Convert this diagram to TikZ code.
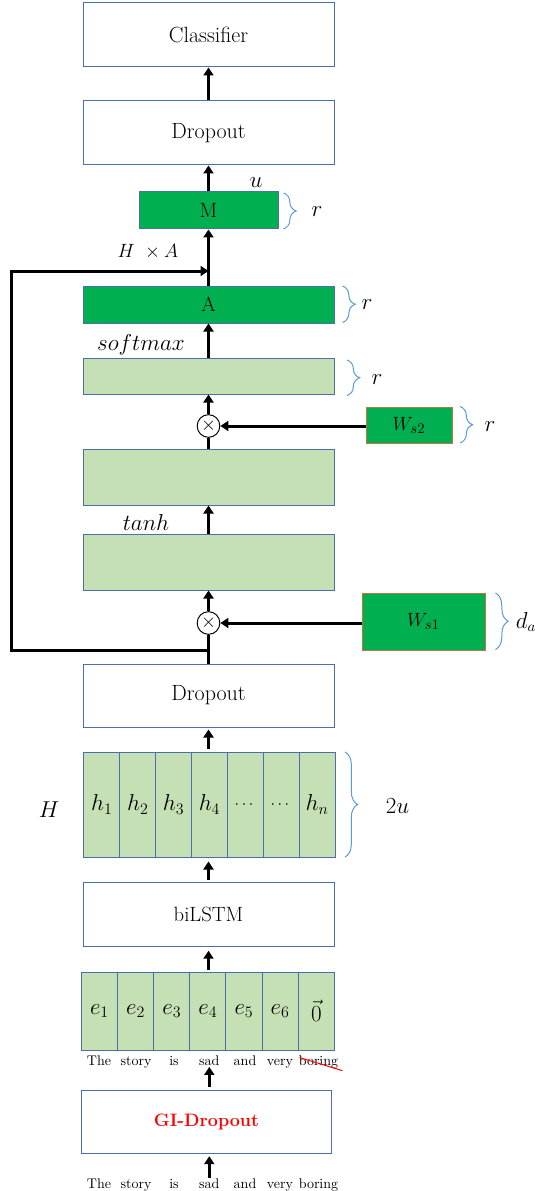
\documentclass[tikz,border=0pt]{standalone}
\usepackage{amsmath,amssymb}
\usepackage{xcolor}
\usetikzlibrary{arrows.meta}
\usetikzlibrary{decorations.pathreplacing}
\usetikzlibrary{calc}
\definecolor{boxblue}{HTML}{4A6EAE}
\definecolor{darkgrn}{HTML}{00B050}
\definecolor{lightgrn}{HTML}{C5E0B4}
\definecolor{wborder}{HTML}{C0743E}
\definecolor{braceblue}{HTML}{5B9BD5}

\begin{document}
\begin{tikzpicture}[x=0.75pt,y=0.75pt,yscale=-1,xscale=1,
  layer/.style={draw=boxblue, line width=0.75pt, fill=white, minimum width=188.25pt, minimum height=48pt, inner sep=0pt, font=\fontsize{16.5}{19}\selectfont},
  pale/.style={layer, fill=lightgrn},
  deep/.style={layer, fill=darkgrn, font=\fontsize{15.5}{18}\selectfont},
  weight/.style={draw=wborder, line width=0.75pt, fill=darkgrn, inner sep=0pt, font=\fontsize{15}{18}\selectfont},
  cell/.style={draw=boxblue, line width=0.75pt, fill=lightgrn, inner sep=0pt, font=\fontsize{16.5}{19}\selectfont},
  mult/.style={circle, draw, line width=0.75pt, fill=white, minimum size=17pt, inner sep=0pt, font=\fontsize{15}{18}\selectfont},
  arr/.style={line width=2.25pt, -{Triangle[length=6pt,width=7.5pt]}},
  flow/.style={line width=2.25pt},
  dim/.style={draw=braceblue, line width=0.75pt, decorate, decoration={brace, amplitude=9.5pt}},
  mathlab/.style={inner sep=0.75pt, font=\fontsize{16}{19}\selectfont},
  word/.style={inner sep=0.75pt, anchor=base, font=\fontsize{10.5}{12}\selectfont}]
%set diagram left start at 0, and has height of 1191
\useasboundingbox (0,0) rectangle (540,1191);

%Shape: Rectangle [Classifier]
\node[layer] (clf) at (208.5,35) {Classifier};
%Shape: Rectangle [Dropout top]
\node[layer] (dropT) at (208.5,133) {Dropout};
%Shape: Rectangle [M]
\node[deep, minimum width=104.25pt, minimum height=27.75pt] (mbox) at (208.5,210.5) {M};
%Shape: Rectangle [A]
\node[deep, minimum height=27.75pt] (abox) at (208.5,304.5) {A};
%Shape: Rectangle [softmax layer]
\node[pale, minimum height=27pt] (soft) at (208.5,376) {};
%Shape: Circle [product 2]
\node[mult] (circA) at (208.5,426) {$\times$};
%Shape: Rectangle [Ws2]
\node[weight, minimum width=64.5pt, minimum height=27pt] (ws2) at (409,425) {$W_{s2}$};
%Shape: Rectangle [linear layer]
\node[pale, minimum height=42pt] (lin) at (208.5,477) {};
%Shape: Rectangle [tanh layer]
\node[pale, minimum height=42pt] (act) at (208.5,562) {};
%Shape: Circle [product 1]
\node[mult] (circB) at (208.5,623) {$\times$};
%Shape: Rectangle [Ws1]
\node[weight, minimum width=92.25pt, minimum height=42.75pt] (ws1) at (423.5,621.5) {$W_{s1}$};
%Shape: Rectangle [Dropout bottom]
\node[layer, minimum height=47.25pt] (dropB) at (208.5,695.5) {Dropout};

%Shape: Rectangle [hidden states]
\node[cell, minimum width=26.9pt, minimum height=78.75pt] (h1) at (101.9,804.5) {$h_1$};
\node[cell, minimum width=26.9pt, minimum height=78.75pt] (h2) at (137.8,804.5) {$h_2$};
\node[cell, minimum width=26.9pt, minimum height=78.75pt] (h3) at (173.6,804.5) {$h_3$};
\node[cell, minimum width=26.9pt, minimum height=78.75pt] (h4) at (209.5,804.5) {$h_4$};
\node[cell, minimum width=26.9pt, minimum height=78.75pt, font=\fontsize{12}{14}\selectfont] (h5) at (245.4,804.5) {$\cdots$};
\node[cell, minimum width=26.9pt, minimum height=78.75pt, font=\fontsize{12}{14}\selectfont] (h6) at (281.2,804.5) {$\cdots$};
\node[cell, minimum width=26.9pt, minimum height=78.75pt] (h7) at (317.1,804.5) {$h_n$};

%Shape: Rectangle [biLSTM]
\node[layer, minimum height=47.6pt, font=\fontsize{15.5}{18}\selectfont] (lstm) at (208.5,914.5) {biLSTM};

%Shape: Rectangle [embeddings]
\node[cell, minimum width=27.1pt, minimum height=58.5pt] (e1) at (99.5,1011) {$e_1$};
\node[cell, minimum width=27.1pt, minimum height=58.5pt] (e2) at (135.6,1011) {$e_2$};
\node[cell, minimum width=27.1pt, minimum height=58.5pt] (e3) at (171.8,1011) {$e_3$};
\node[cell, minimum width=27.1pt, minimum height=58.5pt] (e4) at (207.9,1011) {$e_4$};
\node[cell, minimum width=27.1pt, minimum height=58.5pt] (e5) at (244.0,1011) {$e_5$};
\node[cell, minimum width=27.1pt, minimum height=58.5pt] (e6) at (280.2,1011) {$e_6$};
\node[cell, minimum width=27.1pt, minimum height=58.5pt] (e7) at (316.3,1011) {$\vec{0}$};

% Text Node
\node[word] (w1) at (99,1065.5) {The};
\node[word] (w2) at (136,1065.5) {story};
\node[word] (w3) at (174,1065.5) {is};
\node[word] (w4) at (209.3,1065.5) {sad};
\node[word] (w5) at (245,1065.5) {and};
\node[word] (w6) at (280,1065.5) {very};
\node[word] (w7) at (318.5,1065.5) {boring};
%Straight Lines [strike]
\draw[red, line width=0.75pt] ($(w7.north west)+(2,3)$) -- ($(w7.south east)+(3,1)$);

%Shape: Rectangle [GI-Dropout]
\node[layer, minimum width=187.5pt, minimum height=47.25pt, text=red, font=\fontsize{13.5}{16}\selectfont\bfseries] (gi) at (206.5,1121.5) {GI-Dropout};

% Text Node
\node[word] (b1) at (99,1188.5) {The};
\node[word] (b2) at (136,1188.5) {story};
\node[word] (b3) at (174,1188.5) {is};
\node[word] (b4) at (209.3,1188.5) {sad};
\node[word] (b5) at (245,1188.5) {and};
\node[word] (b6) at (280,1188.5) {very};
\node[word] (b7) at (318.5,1188.5) {boring};

%Straight Lines [flow]
\draw[arr] (dropT.north) -- (clf.south);
\draw[arr] (mbox.north) -- (dropT.south);
\draw[arr] (abox.north) -- (mbox.south);
\draw[arr] (soft.north) -- (abox.south);
\draw[arr] (circA.north) -- (soft.south);
\draw[flow] (lin.north) -- (circA.south);
\draw[arr] (ws2.west |- circA) -- (circA.east);
\draw[arr] (act.north) -- (lin.south);
\draw[arr] (circB.north) -- (act.south);
\draw[arr] (ws1.west |- circB) -- (circB.east);
\draw[flow] (dropB.north) -- (circB.south);
%Straight Lines [H feeds the product]
\coordinate (split) at (208.5,650);
\coordinate (fbtop) at (11,271);
\coordinate (join) at (208.5,271);
\draw[arr] (split) -| (fbtop) -- (join);
\draw[arr, shorten <=2.25pt, shorten >=1.5pt] (dropB.south |- h4.north) -- (dropB.south);
\draw[arr, shorten <=1.5pt, shorten >=3pt] (lstm.north) -- (lstm.north |- h4.south);
\draw[arr, shorten <=1.5pt, shorten >=3pt] (lstm.south |- e4.north) -- (lstm.south);
\draw[arr, shorten <=2pt] (gi.north -| w4) -- (w4.south);
\draw[arr, shorten >=2pt] (b4.north) -- (b4.north |- gi.south);

% Text Node
\node[mathlab] (ulab) at (256,182.5) {$u$};
\node[mathlab, font=\fontsize{15}{18}\selectfont] (halab) at (148,252) {$H\ \times A$};
\node[mathlab] (smlab) at (141,345) {$softmax$};
\node[mathlab] (thlab) at (146,522) {$tanh$};
\node[mathlab] (Hlab) at (49,810) {$H$};

%Shape: Brace
\draw[dim] (283.5,193) -- (283.5,229);
\node[mathlab] (rM) at (317,212) {$r$};
\draw[dim] (342.5,286) -- (342.5,322.5);
\node[mathlab] (rA) at (367,305) {$r$};
\draw[dim] (347,360) -- (347,395.5);
\node[mathlab] (rS) at (377,380) {$r$};
\draw[dim] (460,406.5) -- (460,443);
\node[mathlab] (rW) at (490,427) {$r$};
\draw[dim] (495.5,593) -- (495.5,649.5);
\node[mathlab] (da) at (526,622) {$d_a$};
\draw[dim] (345,752) -- (345,857);
\node[mathlab] (tu) at (397.5,806) {$2u$};

\end{tikzpicture}
\end{document}
